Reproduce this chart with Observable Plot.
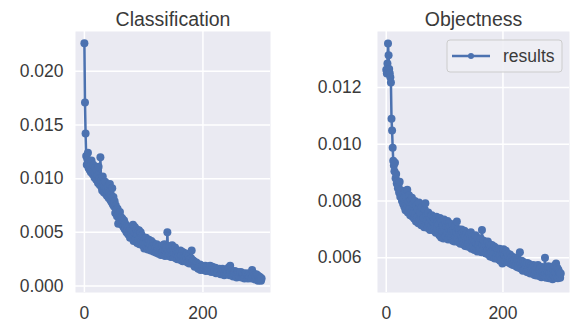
<!DOCTYPE html>
<html>
<head>
<meta charset="utf-8">
<script src="https://cdn.jsdelivr.net/npm/d3@7"></script>
<script src="https://cdn.jsdelivr.net/npm/@observablehq/plot@0.6"></script>
<style>
  html, body { margin: 0; padding: 0; background: white; }
  #chart { position: relative; width: 573px; height: 323px; display: flex; }
  #chart svg { display: block; }
</style>
</head>
<body>
<div id="chart"></div>
<script>
const titles = ["Classification", "Objectness"];
const legendLabel = "results";
const xTicks = [0, 200];
const clsTicks = [0.000, 0.005, 0.010, 0.015, 0.020];
const objTicks = [0.006, 0.008, 0.010, 0.012];

const classification = [
  .0226,.0171,.0142,.0121,.0113,.0118,.0124,.0110,.0115,.0108,
  .0112,.0106,.0117,.0109,.0104,.0113,.0107,.0101,.0110,.0105,
  .0099,.0108,.0103,.0096,.0111,.0100,.0094,.0120,.0098,.0092,
  .0089,.0102,.0095,.0087,.0093,.0097,.0086,.0090,.0084,.0088,
  .0093,.0082,.0087,.0095,.0080,.0085,.0078,.0091,.0076,.0083,
  .0074,.0079,.0068,.0075,.0071,.0065,.0072,.0058,.0067,.0062,
  .0069,.0060,.0064,.0057,.0063,.0059,.0055,.0061,.0053,.0058,
  .0054,.0050,.0056,.0052,.0048,.0055,.0051,.0045,.0053,.0049,
  .0052,.0046,.0057,.0042,.0050,.0055,.0044,.0049,.0053,.0040,
  .0048,.0043,.0052,.0039,.0046,.0050,.0041,.0047,.0038,.0045,
  .0040,.0035,.0044,.0039,.0045,.0037,.0041,.0034,.0040,.0043,
  .0036,.0039,.0033,.0042,.0037,.0035,.0040,.0032,.0038,.0034,
  .0036,.0031,.0039,.0033,.0035,.0030,.0037,.0032,.0034,.0029,
  .0036,.0031,.0038,.0029,.0034,.0039,.0028,.0033,.0036,.0030,
  .0050,.0032,.0028,.0037,.0030,.0035,.0027,.0033,.0038,.0029,
  .0034,.0027,.0031,.0036,.0026,.0030,.0033,.0025,.0032,.0028,
  .0031,.0026,.0033,.0024,.0029,.0032,.0023,.0028,.0031,.0025,
  .0029,.0023,.0027,.0030,.0022,.0026,.0028,.0021,.0025,.0023,
  .0026,.0033,.0022,.0024,.0020,.0023,.0018,.0021,.0019,.0022,
  .0018,.0020,.0016,.0019,.0017,.0020,.0015,.0018,.0016,.0019,
  .0017,.0015,.0018,.0016,.0019,.0014,.0017,.0015,.0018,.0016,
  .0014,.0017,.0019,.0015,.0013,.0016,.0018,.0014,.0016,.0013,
  .0015,.0017,.0012,.0016,.0014,.0013,.0015,.0012,.0016,.0014,
  .0011,.0015,.0013,.0016,.0012,.0014,.0010,.0013,.0015,.0012,
  .0014,.0011,.0013,.0017,.0012,.0010,.0019,.0013,.0011,.0014,
  .0012,.0009,.0013,.0011,.0014,.0010,.0012,.0008,.0011,.0013,
  .0010,.0012,.0009,.0011,.0013,.0008,.0010,.0012,.0009,.0011,
  .0007,.0010,.0012,.0008,.0011,.0009,.0007,.0010,.0012,.0008,
  .0009,.0011,.0007,.0015,.0009,.0012,.0008,.0010,.0006,.0009,
  .0011,.0007,.0010,.0005,.0008,.0009,.0006,.0008,.0005,.0007
];

const objectness = [
  .01262,.01249,.01284,.01355,.01313,.01265,.01250,.01236,.01217,.01090,
  .01048,.00988,.00942,.00925,.00905,.00935,.00880,.00895,.00862,.00870,
  .00845,.00855,.00830,.00868,.00815,.00838,.00820,.00800,.00812,.00790,
  .00810,.00780,.00835,.00768,.00815,.00775,.00840,.00760,.00798,.00820,
  .00772,.00750,.00805,.00762,.00812,.00745,.00790,.00758,.00738,.00800,
  .00755,.00728,.00785,.00742,.00770,.00722,.00795,.00735,.00760,.00730,
  .00715,.00778,.00725,.00752,.00740,.00708,.00770,.00792,.00720,.00748,
  .00732,.00705,.00760,.00722,.00745,.00698,.00738,.00712,.00750,.00702,
  .00728,.00742,.00695,.00735,.00712,.00688,.00745,.00705,.00725,.00690,
  .00718,.00680,.00740,.00700,.00672,.00730,.00695,.00715,.00668,.00735,
  .00700,.00725,.00675,.00710,.00688,.00730,.00665,.00705,.00722,.00680,
  .00712,.00670,.00695,.00718,.00660,.00700,.00688,.00658,.00710,.00675,
  .00692,.00728,.00668,.00702,.00655,.00688,.00698,.00650,.00682,.00700,
  .00660,.00690,.00648,.00680,.00695,.00642,.00675,.00662,.00688,.00640,
  .00672,.00650,.00685,.00638,.00668,.00690,.00632,.00660,.00675,.00640,
  .00665,.00628,.00658,.00680,.00635,.00650,.00622,.00670,.00645,.00625,
  .00655,.00632,.00668,.00620,.00698,.00645,.00628,.00660,.00640,.00618,
  .00650,.00615,.00642,.00625,.00658,.00612,.00638,.00648,.00605,.00632,
  .00620,.00645,.00602,.00630,.00612,.00640,.00598,.00625,.00635,.00600,
  .00615,.00628,.00595,.00620,.00632,.00590,.00612,.00625,.00595,.00580,
  .00618,.00630,.00592,.00608,.00588,.00625,.00600,.00585,.00615,.00590,
  .00605,.00582,.00612,.00595,.00578,.00605,.00588,.00575,.00602,.00585,
  .00595,.00572,.00600,.00580,.00568,.00592,.00575,.00565,.00588,.00620,
  .00580,.00562,.00590,.00570,.00555,.00585,.00572,.00558,.00580,.00565,
  .00575,.00550,.00582,.00562,.00548,.00578,.00558,.00545,.00572,.00560,
  .00568,.00545,.00575,.00555,.00540,.00570,.00552,.00538,.00565,.00548,
  .00575,.00540,.00560,.00535,.00565,.00548,.00532,.00568,.00545,.00555,
  .00538,.00562,.00600,.00545,.00530,.00558,.00535,.00552,.00570,.00528,
  .00548,.00565,.00532,.00555,.00540,.00525,.00560,.00538,.00572,.00530,
  .00550,.00580,.00535,.00565,.00528,.00558,.00540,.00548,.00530,.00545
];

const BLUE = "#4C72B0";
const BG = "#EAEAF2";
const TXT = "#3a3a3a";
const FONT = "'Liberation Sans', Arial, Helvetica, sans-serif";
const TICK_FS = 17.5;

function panel({values, title, yTicks, yDomain, width, marginLeft, marginRight, tickPad}) {
  const data = values.map((v, i) => ({epoch: i, value: v}));
  return Plot.plot({
    width, height: 323,
    marginLeft, marginRight, marginTop: 31, marginBottom: 31,
    style: {fontFamily: FONT, background: "white", overflow: "visible"},
    x: {domain: [-15, 314]},
    y: {domain: yDomain},
    marks: [
      Plot.frame({fill: BG, stroke: null}),
      Plot.gridX({ticks: xTicks, stroke: "white", strokeOpacity: 1, strokeWidth: 1.5}),
      Plot.gridY({ticks: yTicks, stroke: "white", strokeOpacity: 1, strokeWidth: 1.5}),
      Plot.axisX({ticks: xTicks, tickSize: 0, tickPadding: 14, fontSize: TICK_FS, fill: TXT, label: null}),
      Plot.axisY({ticks: yTicks, tickSize: 0, tickPadding: tickPad, fontSize: TICK_FS, fill: TXT,
                  tickFormat: d3.format(".3f"), label: null}),
      Plot.line(data, {x: "epoch", y: "value", stroke: BLUE, strokeWidth: 2.5}),
      Plot.dot(data, {x: "epoch", y: "value", fill: BLUE, r: 4, stroke: null}),
      Plot.text([title], {frameAnchor: "top", dy: -19, fontSize: 19.5, fill: TXT})
    ]
  });
}

const left = panel({
  values: classification, title: titles[0], yTicks: clsTicks,
  yDomain: [-0.0006, 0.0237], width: 290, marginLeft: 75, marginRight: 20, tickPad: 12
});
const right = panel({
  values: objectness, title: titles[1], yTicks: objTicks,
  yDomain: [0.00478, 0.01397], width: 283, marginLeft: 87, marginRight: 4, tickPad: 16
});

// legend (matplotlib-style box in upper right)
const g = d3.select(right).append("g");
g.append("rect").attr("x", 157).attr("y", 40).attr("width", 115).attr("height", 32)
  .attr("rx", 3).attr("fill", "#EEEEF4").attr("fill-opacity", 0.9).attr("stroke", "#CCCCCC").attr("stroke-width", 1);
g.append("line").attr("x1", 162).attr("x2", 200).attr("y1", 56).attr("y2", 56)
  .attr("stroke", BLUE).attr("stroke-width", 2.5);
g.append("circle").attr("cx", 181).attr("cy", 56).attr("r", 3).attr("fill", BLUE);
g.append("text").attr("x", 213).attr("y", 56).attr("dy", "0.35em").attr("text-anchor", "start")
  .attr("font-size", TICK_FS).attr("font-family", FONT).attr("fill", TXT).text(legendLabel);

const chart = document.getElementById("chart");
chart.appendChild(left);
chart.appendChild(right);
</script>
</body>
</html>
